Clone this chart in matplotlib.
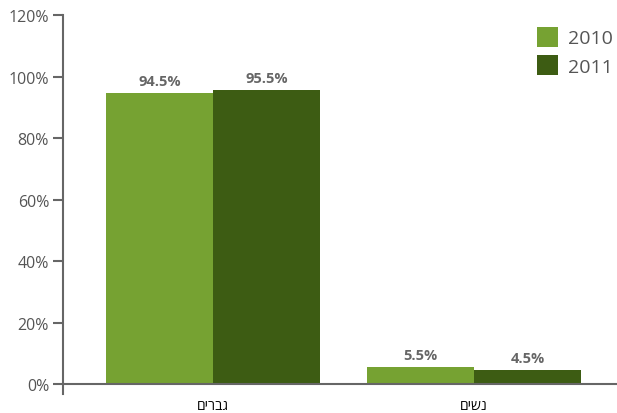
import numpy as np
import matplotlib.pyplot as plt
from matplotlib.ticker import FuncFormatter

categories = ["גברים", "נשים"]
years = ["2010", "2011"]
values_2010 = [94.5, 5.5]
values_2011 = [95.5, 4.5]
colors = ["#76a232", "#3d5c13"]

plt.rcParams['font.family'] = ['Open Sans', 'DejaVu Sans']

fig = plt.figure(figsize=(6.17, 4.14), dpi=100)
ax = fig.add_axes([63 / 617, 1 - 395 / 414, 1 - 63 / 617, (395 - 16) / 414])

x = np.arange(len(categories))
w = 0.41
b1 = ax.bar(x - w / 2, values_2010, w, color=colors[0], label=years[0])
b2 = ax.bar(x + w / 2, values_2011, w, color=colors[1], label=years[1])

for bars, vals in [(b1, values_2010), (b2, values_2011)]:
    for r, v in zip(bars, vals):
        ax.text(r.get_x() + r.get_width() / 2, v + 1.6, f"{v}%", ha="center", va="bottom",
                fontsize=10.5, fontweight="bold", color="#666666")

ax.set_xlim(-0.575, 1.548)
ax.set_ylim(-3.25, 120)
ax.set_yticks(range(0, 121, 20))
ax.yaxis.set_major_formatter(FuncFormatter(lambda v, p: f"{int(v)}%"))
ax.set_xticks(x)
# matplotlib has no bidi, so reverse Hebrew for display
ax.set_xticklabels([c[::-1] for c in categories], fontsize=13, color="#444444")
ax.tick_params(axis="x", length=0, pad=10)
ax.tick_params(axis="y", length=7, width=1.5, color="#666666", labelsize=11.5, labelcolor="#555555", pad=3)

for s in ["top", "right"]:
    ax.spines[s].set_visible(False)
ax.spines["bottom"].set_position(("data", 0))
ax.spines["bottom"].set_color("#666666")
ax.spines["bottom"].set_linewidth(1.5)
ax.spines["left"].set_color("#666666")
ax.spines["left"].set_linewidth(1.5)

leg = ax.legend(loc="upper right", bbox_to_anchor=(1.024, 1.015), frameon=False, fontsize=14,
                handlelength=1.1, handleheight=1.2, handletextpad=0.5, labelspacing=0.4,
                labelcolor="#555555")

fig.savefig("out.png", dpi=100)
